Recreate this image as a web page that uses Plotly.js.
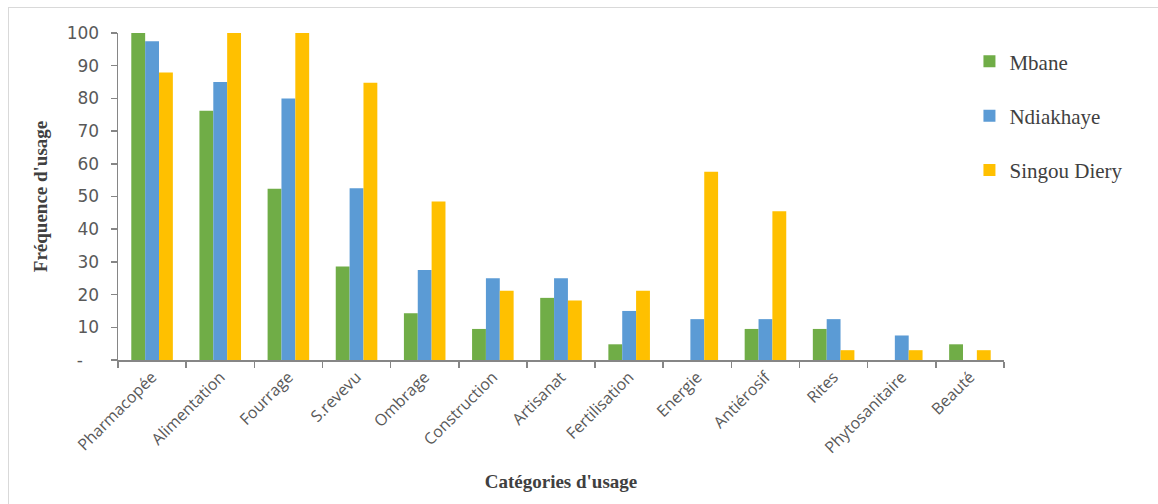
<!DOCTYPE html>
<html>
<head>
<meta charset="utf-8">
<script src="https://cdn.plot.ly/plotly-3.0.1.min.js"></script>
<style>
html,body{margin:0;padding:0;background:#fff;}
#frame{position:absolute;left:8px;top:7px;width:1160px;height:510px;border:1px solid #d9d9d9;box-sizing:border-box;}
#chart{position:absolute;left:0;top:0;width:1158px;height:504px;}
</style>
</head>
<body>
<div id="frame"></div>
<div id="chart"></div>
<script>
const categories = ["Pharmacopée","Alimentation","Fourrage","S.revevu","Ombrage","Construction","Artisanat","Fertilisation","Energie","Antiérosif","Rites","Phytosanitaire","Beauté"];
const mbane = [100, 76.2, 52.4, 28.6, 14.3, 9.5, 19.0, 4.8, 0, 9.5, 9.5, 0, 4.8];
const ndiakhaye = [97.5, 85, 80, 52.5, 27.5, 25, 25, 15, 12.5, 12.5, 12.5, 7.5, 0];
const singouDiery = [87.9, 100, 100, 84.8, 48.5, 21.2, 18.2, 21.2, 57.6, 45.5, 3.0, 3.0, 3.0];
const seriesNames = ["Mbane","Ndiakhaye","Singou Diery"];
const yTickVals = [0,10,20,30,40,50,60,70,80,90,100];
const yTickText = ["-\u00a0\u00a0\u00a0","10","20","30","40","50","60","70","80","90","100"];

const colors = ["#70AD47","#5B9BD5","#FFC000"];
const series = [mbane, ndiakhaye, singouDiery];
const traces = series.map((vals,i)=>({
  type:"bar", x:categories, y:vals, name:seriesNames[i],
  marker:{color:colors[i]}, legendgroup:"g"+i, hoverinfo:"x+y+name"
}));

const layout = {
  width:1158, height:504,
  margin:{l:118, r:154, t:33, b:144},
  paper_bgcolor:"rgba(0,0,0,0)", plot_bgcolor:"rgba(0,0,0,0)",
  barmode:"group", bargap:0.39, bargroupgap:0,
  showlegend:true,
  legend:{x:0.961, y:0.975, xanchor:"left", yanchor:"top", traceorder:"grouped", tracegroupgap:24,
    font:{family:"Liberation Serif, serif", size:21, color:"#404040"}, bgcolor:"rgba(0,0,0,0)"},
  xaxis:{
    type:"category", showgrid:false, zeroline:false,
    showline:true, linecolor:"#868686", linewidth:1.5,
    ticks:"outside", tickson:"boundaries", ticklen:6, tickcolor:"#868686", tickwidth:1.5,
    tickangle:-45, tickfont:{family:"Open Sans", size:16, color:"#595959"},
    title:{text:"<b>Catégories d'usage</b>", font:{family:"Liberation Serif", size:19, color:"#404040"}, standoff:18}
  },
  yaxis:{
    range:[0,100], showgrid:false, zeroline:false,
    showline:true, linecolor:"#868686", linewidth:1.5,
    ticks:"outside", ticklen:6, tickcolor:"#868686", tickwidth:1.5,
    ticklabelstandoff:8,
    tickvals:yTickVals, ticktext:yTickText,
    tickfont:{family:"DejaVu Sans", size:17, color:"#595959"},
    title:{text:"<b>Fréquence d'usage</b>", font:{family:"Liberation Serif", size:19, color:"#404040"}, standoff:14}
  }
};
Plotly.newPlot("chart", traces, layout, {displayModeBar:false, staticPlot:true});
</script>
</body>
</html>
